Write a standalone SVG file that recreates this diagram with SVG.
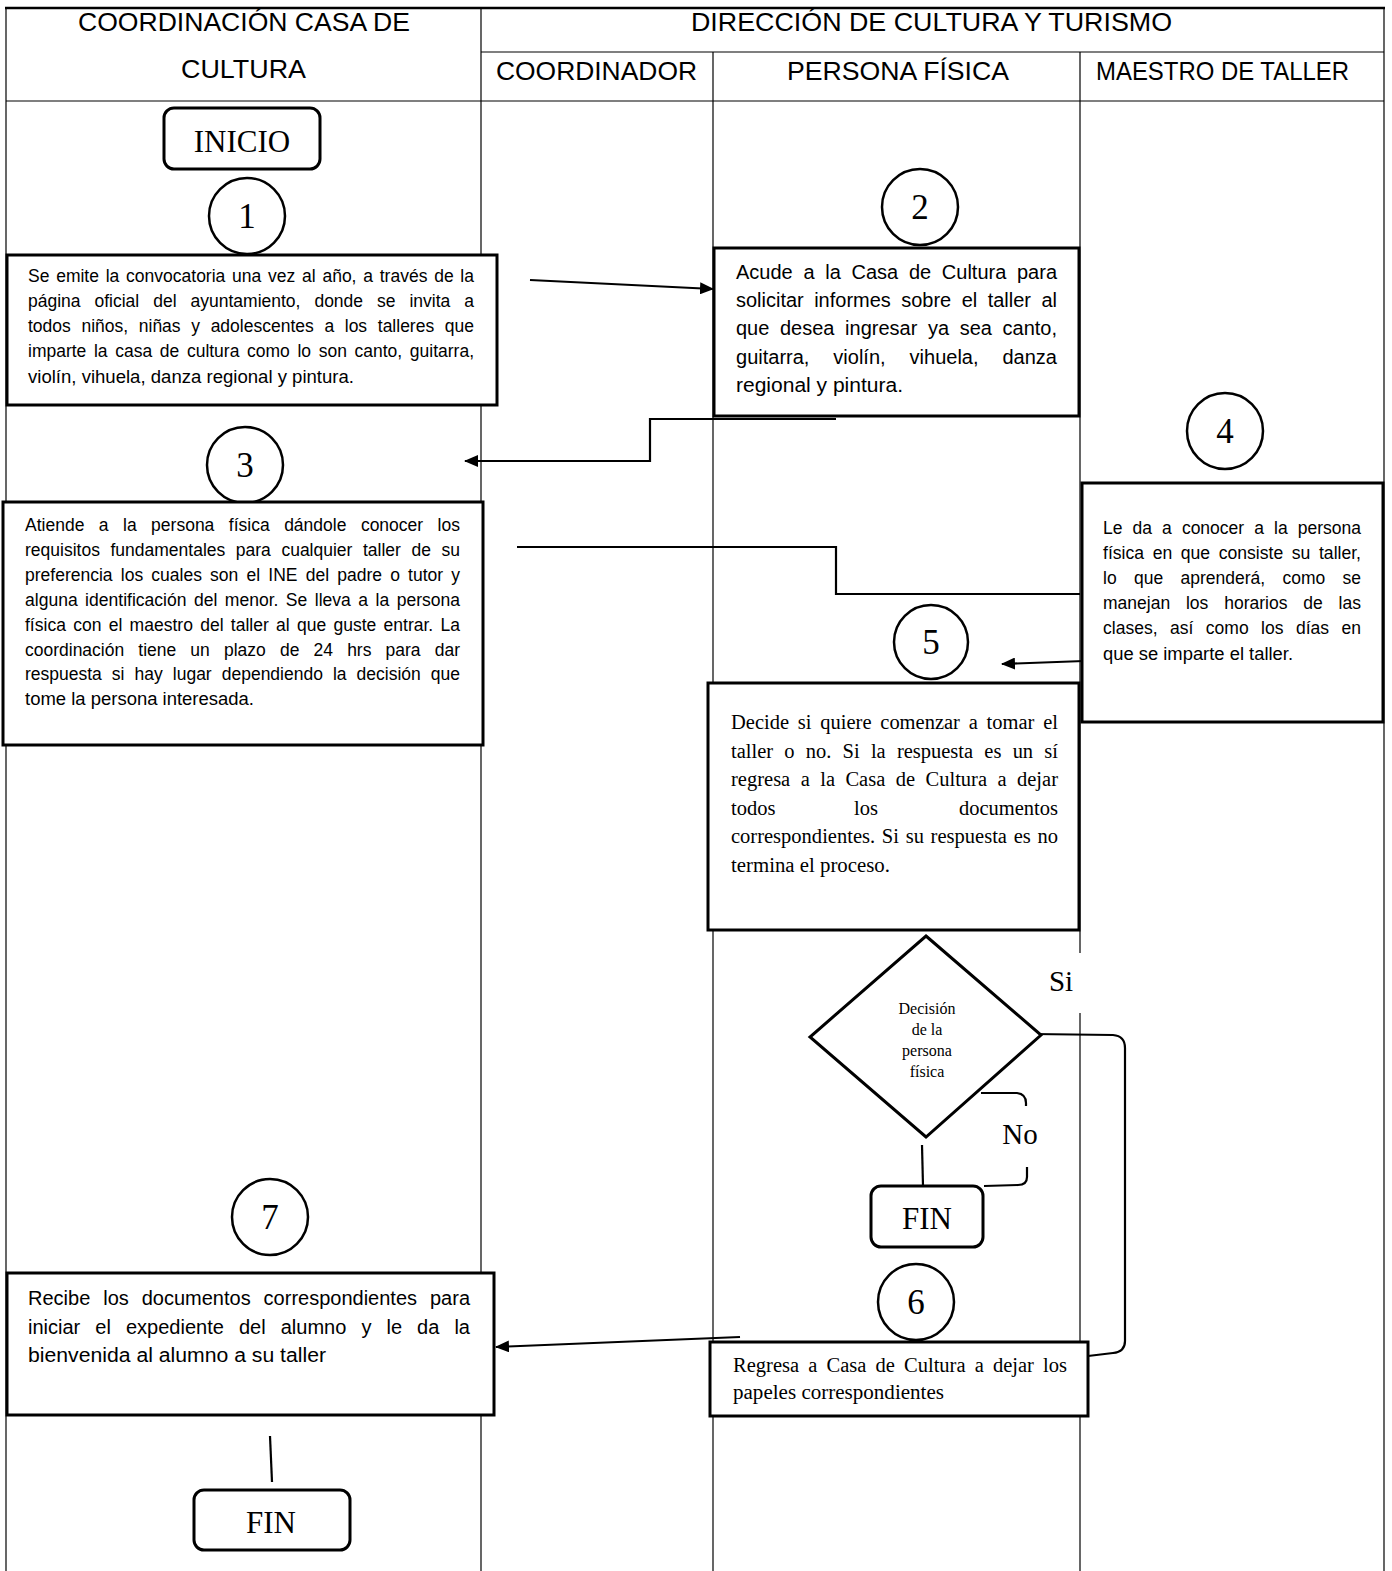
<svg xmlns="http://www.w3.org/2000/svg" width="1392" height="1571" viewBox="0 0 1392 1571">
<defs>
<style>
.lane{stroke:#000;stroke-width:1.2;fill:none}
.hd{font-family:"Liberation Sans",Arial,sans-serif;font-size:25px;fill:#000}
.box{fill:#fff;stroke:#000;stroke-width:3}
.term{fill:#fff;stroke:#000;stroke-width:3}
.circ{fill:#fff;stroke:#000;stroke-width:2.5}
.num{font-family:"Liberation Serif","Times New Roman",serif;font-size:35px;fill:#000;text-anchor:middle}
.tt{font-family:"Liberation Serif","Times New Roman",serif;font-size:31px;fill:#000;text-anchor:middle}
.s16{font-family:"Liberation Sans",Arial,sans-serif;font-size:17.5px;fill:#000}
.s19{font-family:"Liberation Sans",Arial,sans-serif;font-size:20px;fill:#000}
.r19{font-family:"Liberation Serif","Times New Roman",serif;font-size:20.5px;fill:#000}
.dt{font-family:"Liberation Serif","Times New Roman",serif;font-size:16px;fill:#000;text-anchor:middle}
.con{stroke:#000;stroke-width:2.2;fill:none}
</style>
<marker id="ah" markerUnits="userSpaceOnUse" markerWidth="14" markerHeight="12" refX="13" refY="6" orient="auto">
<path d="M0,0 L14,6 L0,12 Z" fill="#000"/>
</marker>
</defs>
<rect width="1392" height="1571" fill="#fff"/>

<g id="table">
<line class="lane" x1="6" y1="8" x2="6" y2="1571"/>
<line class="lane" x1="481" y1="8" x2="481" y2="1571"/>
<line class="lane" x1="713" y1="52" x2="713" y2="1571"/>
<line class="lane" x1="1080" y1="52" x2="1080" y2="1571"/>
<line class="lane" x1="1384" y1="8" x2="1384" y2="1571"/>
<line x1="5" y1="8" x2="1385" y2="8" stroke="#000" stroke-width="2.5"/>
<line class="lane" x1="481" y1="52" x2="1384" y2="52"/>
<line class="lane" x1="6" y1="101" x2="1384" y2="101"/>
<text class="hd" x="78" y="31" textLength="332" lengthAdjust="spacingAndGlyphs">COORDINACIÓN CASA DE</text>
<text class="hd" x="181" y="78" textLength="125" lengthAdjust="spacingAndGlyphs">CULTURA</text>
<text class="hd" x="691" y="31" textLength="481" lengthAdjust="spacingAndGlyphs">DIRECCIÓN DE CULTURA Y TURISMO</text>
<text class="hd" x="496" y="80" textLength="201" lengthAdjust="spacingAndGlyphs">COORDINADOR</text>
<text class="hd" x="787" y="80" textLength="222" lengthAdjust="spacingAndGlyphs">PERSONA FÍSICA</text>
<text class="hd" x="1096" y="80" textLength="253" lengthAdjust="spacingAndGlyphs">MAESTRO DE TALLER</text>
</g>

<rect x="1043" y="953" width="60" height="60" fill="#fff"/>

<g id="connectors">
<line class="con" x1="530" y1="280" x2="713" y2="289" marker-end="url(#ah)"/>
<polyline class="con" points="836,419 650,419 650,461 465,461" marker-end="url(#ah)"/>
<polyline class="con" points="517,547 836,547 836,594 1080,594"/>
<line class="con" x1="1084" y1="661" x2="1002" y2="664" marker-end="url(#ah)"/>
<path class="con" d="M1033,1034 L1113,1035 Q1125,1036 1125,1048 L1125,1341 Q1125,1352 1113,1353 L1088,1356"/>
<path class="con" d="M981,1093 L1017,1093 Q1026,1094 1026,1103 L1026,1106"/>
<path class="con" d="M1027,1167 L1027,1177 Q1027,1185 1018,1185 L984,1186"/>
<line class="con" x1="922" y1="1145" x2="923" y2="1186"/>
<line class="con" x1="740" y1="1337" x2="496" y2="1347" marker-end="url(#ah)"/>
<line class="con" x1="270" y1="1436" x2="272" y2="1482"/>
</g>

<g id="inicio">
<rect class="term" x="164" y="108" width="156" height="61" rx="10"/>
<text class="tt" x="242" y="152">INICIO</text>
</g>

<g id="c1"><ellipse class="circ" cx="247" cy="216" rx="38" ry="38"/><text class="num" x="247" y="228">1</text></g>
<g id="c2"><ellipse class="circ" cx="920" cy="207" rx="38" ry="38"/><text class="num" x="920" y="219">2</text></g>
<g id="c3"><ellipse class="circ" cx="245" cy="465" rx="38" ry="38"/><text class="num" x="245" y="477">3</text></g>
<g id="c4"><ellipse class="circ" cx="1225" cy="431" rx="38" ry="38"/><text class="num" x="1225" y="443">4</text></g>
<g id="c5"><ellipse class="circ" cx="931" cy="642" rx="37" ry="37"/><text class="num" x="931" y="654">5</text></g>
<g id="c6"><ellipse class="circ" cx="916" cy="1302" rx="38" ry="38"/><text class="num" x="916" y="1314">6</text></g>
<g id="c7"><ellipse class="circ" cx="270" cy="1217" rx="38" ry="38"/><text class="num" x="270" y="1229">7</text></g>

<g id="box1">
<rect class="box" x="7" y="255" width="490" height="150"/>
<text class="s16" x="28" y="282" style="word-spacing:1.9px" textLength="446" lengthAdjust="spacingAndGlyphs">Se emite la convocatoria una vez al año, a través de la</text>
<text class="s16" x="28" y="307" style="word-spacing:9.1px" textLength="446" lengthAdjust="spacingAndGlyphs">página oficial del ayuntamiento, donde se invita a</text>
<text class="s16" x="28" y="332" style="word-spacing:5.8px" textLength="446" lengthAdjust="spacingAndGlyphs">todos niños, niñas y adolescentes a los talleres que</text>
<text class="s16" x="28" y="357" style="word-spacing:2.8px" textLength="446" lengthAdjust="spacingAndGlyphs">imparte la casa de cultura como lo son canto, guitarra,</text>
<text class="s16" x="28" y="383" textLength="326" lengthAdjust="spacingAndGlyphs">violín, vihuela, danza regional y pintura.</text>
</g>

<g id="box2">
<rect class="box" x="714" y="248" width="365" height="168"/>
<text class="s19" x="736" y="279" style="word-spacing:5.2px" textLength="321" lengthAdjust="spacingAndGlyphs">Acude a la Casa de Cultura para</text>
<text class="s19" x="736" y="307" style="word-spacing:4.9px" textLength="321" lengthAdjust="spacingAndGlyphs">solicitar informes sobre el taller al</text>
<text class="s19" x="736" y="335" style="word-spacing:5.1px" textLength="321" lengthAdjust="spacingAndGlyphs">que desea ingresar ya sea canto,</text>
<text class="s19" x="736" y="364" style="word-spacing:18.4px" textLength="321" lengthAdjust="spacingAndGlyphs">guitarra, violín, vihuela, danza</text>
<text class="s19" x="736" y="392" textLength="167" lengthAdjust="spacingAndGlyphs">regional y pintura.</text>
</g>

<g id="box3">
<rect class="box" x="3" y="502" width="480" height="243"/>
<text class="s16" x="25" y="531" style="word-spacing:9.6px" textLength="435" lengthAdjust="spacingAndGlyphs">Atiende a la persona física dándole conocer los</text>
<text class="s16" x="25" y="556" style="word-spacing:5.7px" textLength="435" lengthAdjust="spacingAndGlyphs">requisitos fundamentales para cualquier taller de su</text>
<text class="s16" x="25" y="581" style="word-spacing:3.3px" textLength="435" lengthAdjust="spacingAndGlyphs">preferencia los cuales son el INE del padre o tutor y</text>
<text class="s16" x="25" y="606" style="word-spacing:2.6px" textLength="435" lengthAdjust="spacingAndGlyphs">alguna identificación del menor. Se lleva a la persona</text>
<text class="s16" x="25" y="631" style="word-spacing:2.4px" textLength="435" lengthAdjust="spacingAndGlyphs">física con el maestro del taller al que guste entrar. La</text>
<text class="s16" x="25" y="656" style="word-spacing:9.3px" textLength="435" lengthAdjust="spacingAndGlyphs">coordinación tiene un plazo de 24 hrs para dar</text>
<text class="s16" x="25" y="680" style="word-spacing:5.2px" textLength="435" lengthAdjust="spacingAndGlyphs">respuesta si hay lugar dependiendo la decisión que</text>
<text class="s16" x="25" y="705" textLength="229" lengthAdjust="spacingAndGlyphs">tome la persona interesada.</text>
</g>

<g id="box4">
<rect class="box" x="1082" y="483" width="301" height="239"/>
<text class="s16" x="1103" y="534" style="word-spacing:5.2px" textLength="258" lengthAdjust="spacingAndGlyphs">Le da a conocer a la persona</text>
<text class="s16" x="1103" y="559" style="word-spacing:3.7px" textLength="258" lengthAdjust="spacingAndGlyphs">física en que consiste su taller,</text>
<text class="s16" x="1103" y="584" style="word-spacing:12.5px" textLength="258" lengthAdjust="spacingAndGlyphs">lo que aprenderá, como se</text>
<text class="s16" x="1103" y="609" style="word-spacing:11px" textLength="258" lengthAdjust="spacingAndGlyphs">manejan los horarios de las</text>
<text class="s16" x="1103" y="634" style="word-spacing:7.6px" textLength="258" lengthAdjust="spacingAndGlyphs">clases, así como los días en</text>
<text class="s16" x="1103" y="660" textLength="190" lengthAdjust="spacingAndGlyphs">que se imparte el taller.</text>
</g>

<g id="box5">
<rect class="box" x="708" y="683" width="371" height="247"/>
<text class="r19" x="731" y="729" style="word-spacing:3.7px" textLength="327" lengthAdjust="spacingAndGlyphs">Decide si quiere comenzar a tomar el</text>
<text class="r19" x="731" y="758" style="word-spacing:6.1px" textLength="327" lengthAdjust="spacingAndGlyphs">taller o no. Si la respuesta es un sí</text>
<text class="r19" x="731" y="786" style="word-spacing:5.3px" textLength="327" lengthAdjust="spacingAndGlyphs">regresa a la Casa de Cultura a dejar</text>
<text class="r19" x="731" y="815">todos</text>
<text class="r19" x="866" y="815" text-anchor="middle">los</text>
<text class="r19" x="1058" y="815" text-anchor="end">documentos</text>
<text class="r19" x="731" y="843" style="word-spacing:1.6px" textLength="327" lengthAdjust="spacingAndGlyphs">correspondientes. Si su respuesta es no</text>
<text class="r19" x="731" y="872" textLength="159" lengthAdjust="spacingAndGlyphs">termina el proceso.</text>
</g>

<g id="decision">
<polygon points="926,936 1041,1035 926,1137 810,1037" fill="#fff" stroke="#000" stroke-width="3"/>
<text class="dt" x="927" y="1014">Decisión</text>
<text class="dt" x="927" y="1035">de la</text>
<text class="dt" x="927" y="1056">persona</text>
<text class="dt" x="927" y="1077">física</text>
</g>

<g id="label-si"><text class="tt" x="1061" y="991" style="font-size:29px">Si</text></g>
<g id="label-no"><text class="tt" x="1020" y="1144" style="font-size:29px">No</text></g>

<g id="fin1">
<rect class="term" x="871" y="1186" width="112" height="61" rx="10"/>
<text class="tt" x="927" y="1229">FIN</text>
</g>

<g id="box6">
<rect class="box" x="710" y="1342" width="378" height="74"/>
<text class="r19" x="733" y="1372" style="word-spacing:4px" textLength="334" lengthAdjust="spacingAndGlyphs">Regresa a Casa de Cultura a dejar los</text>
<text class="r19" x="733" y="1399" textLength="211" lengthAdjust="spacingAndGlyphs">papeles correspondientes</text>
</g>

<g id="box7">
<rect class="box" x="7" y="1273" width="487" height="142"/>
<text class="s19" x="28" y="1305" style="word-spacing:7.4px" textLength="442" lengthAdjust="spacingAndGlyphs">Recibe los documentos correspondientes para</text>
<text class="s19" x="28" y="1334" style="word-spacing:9.5px" textLength="442" lengthAdjust="spacingAndGlyphs">iniciar el expediente del alumno y le da la</text>
<text class="s19" x="28" y="1362" textLength="298" lengthAdjust="spacingAndGlyphs">bienvenida al alumno a su taller</text>
</g>

<g id="fin2">
<rect class="term" x="194" y="1490" width="156" height="60" rx="10"/>
<text class="tt" x="271" y="1533">FIN</text>
</g>
</svg>
